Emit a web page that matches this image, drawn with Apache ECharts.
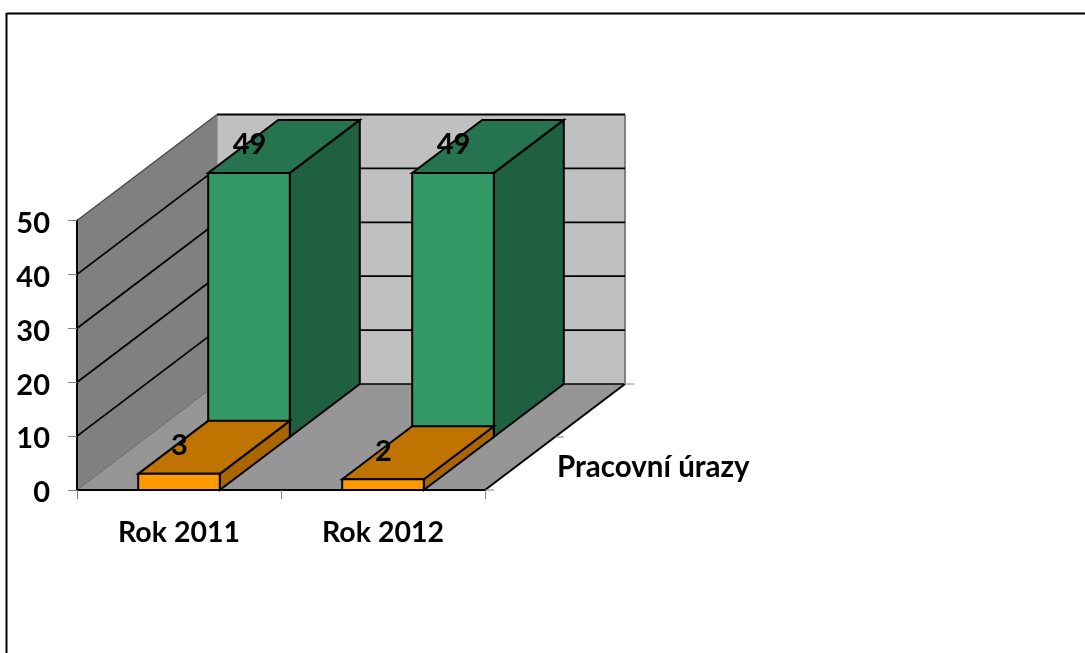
<!DOCTYPE html>
<html><head><meta charset="utf-8">
<style>html,body{margin:0;padding:0;background:#fff}#c{width:1085px;height:653px}</style>
<script src="https://cdn.jsdelivr.net/npm/echarts@6/dist/echarts.min.js"></script>
</head><body><div id="c"></div>
<script>
const categories = ['Rok 2011', 'Rok 2012'];
const frontValues = [3, 2];
const backValues = [49, 49];
const depthLabel = 'Pracovní úrazy';
const yMax = 50, yStep = 10;
const gridValues = [10, 20, 30, 40, 50];

const DX = 140, DY = -106;           // oblique projection of the full depth
const FONT = 'Lato, "Open Sans", sans-serif';
const BAR = 0.4;                     // bar width as a share of a category band
const chart = echarts.init(document.getElementById('c'), null, {renderer: 'canvas'});

function poly(points, fill, stroke, lw) {
  return {type: 'polygon', shape: {points}, style: {fill, stroke: stroke || 'none', lineWidth: lw === undefined ? 2 : lw, lineJoin: 'miter'}};
}
function line(a, b, stroke, lw) {
  return {type: 'line', shape: {x1: a[0], y1: a[1], x2: b[0], y2: b[1]}, style: {stroke, lineWidth: lw}};
}
function at(p, d) { return [p[0] + DX * d, p[1] + DY * d]; }

function renderWalls(params, api) {
  const band = api.size([1, 0])[0];
  const x0 = api.coord([0, 0])[0] - band / 2;
  const x1 = api.coord([categories.length - 1, 0])[0] + band / 2;
  const y0 = api.coord([0, 0])[1];
  const yTop = api.coord([0, yMax])[1];
  const fl = [x0, y0], fr = [x1, y0], tl = [x0, yTop], tr = [x1, yTop];
  const kids = [
    poly([at(fl, 1), at(fr, 1), at(tr, 1), at(tl, 1)], '#c0c0c0'),
    poly([fl, at(fl, 1), at(tl, 1), tl], '#808080'),
    poly([fl, fr, at(fr, 1), at(fl, 1)], '#969696'),
    line(fl, at(fl, 1), '#666666', 1),
    line(at(fl, 1), at(fr, 1), '#000', 1.4),
    line(fr, at(fr, 1), '#000', 2),
    line(at(fr, 1), at(tr, 1), '#808080', 2),
    line(at(fl, 1), at(tl, 1), '#808080', 1)
  ];
  gridValues.forEach(function (v) {
    const y = api.coord([0, v])[1];
    const top = v === yMax;
    kids.push(line([x0, y], at([x0, y], 1), top ? '#444444' : '#000', top ? 1.2 : 1.8));
    kids.push(line(at([x0, y], 1), at([x1, y], 1), '#000', 1.8));
  });
  [0, 0.5, 1].forEach(function (d) {
    const p = at(fr, d);
    kids.push(line(p, [p[0] + 9, p[1]], '#808080', 1));
  });
  return {type: 'group', children: kids};
}

function makeRender(d0, d1, colors) {
  return function (params, api) {
    const cat = api.value(0), val = api.value(1);
    const w = api.size([1, 0])[0] * BAR;
    const c = api.coord([cat, 0]), t = api.coord([cat, val]);
    const bl = [c[0] - w / 2, c[1]], br = [c[0] + w / 2, c[1]];
    const tl = [c[0] - w / 2, t[1]], tr = [c[0] + w / 2, t[1]];
    const f = [at(bl, d0), at(br, d0), at(tr, d0), at(tl, d0)];
    const top = [at(tl, d0), at(tr, d0), at(tr, d1), at(tl, d1)];
    const side = [at(br, d0), at(br, d1), at(tr, d1), at(tr, d0)];
    const lab = at([c[0], t[1]], d0);
    return {type: 'group', children: [
      poly(side, colors[2], '#000'),
      poly(top, colors[1], '#000'),
      poly(f, colors[0], '#000'),
      {type: 'text', z2: 50, style: {text: String(val), x: lab[0] + 0.5, y: lab[1] - 28, align: 'center', verticalAlign: 'middle',
        font: 'bold 29px ' + FONT, fill: '#000'}}
    ]};
  };
}

chart.setOption({
  animation: false,
  backgroundColor: '#ffffff',
  grid: {left: 77, top: 220.5, width: 408, height: 269.5, containLabel: false},
  xAxis: {
    type: 'category', data: categories, z: 8,
    axisLine: {show: true, lineStyle: {color: '#000', width: 2}},
    axisTick: {show: true, length: 9, lineStyle: {color: '#808080', width: 1}},
    axisLabel: {margin: 28, color: '#000', fontFamily: FONT, fontWeight: 'bold', fontSize: 28.5, interval: 0},
    splitLine: {show: false}
  },
  yAxis: {
    type: 'value', min: 0, max: yMax, interval: yStep, z: 8,
    axisLine: {show: true, lineStyle: {color: '#000', width: 2}},
    axisTick: {show: true, length: 9, lineStyle: {color: '#808080', width: 1}},
    axisLabel: {margin: 27, verticalAlign: 'top', lineHeight: 6, color: '#000', fontFamily: FONT, fontWeight: 'bold', fontSize: 29},
    splitLine: {show: false}
  },
  series: [
    {type: 'custom', z: 1, silent: true, coordinateSystem: 'cartesian2d', data: [[0, 0]], renderItem: renderWalls, clip: false},
    {type: 'custom', z: 2, silent: true, coordinateSystem: 'cartesian2d', data: backValues.map((v, i) => [i, v]),
      encode: {x: 0, y: 1}, renderItem: makeRender(0.5, 1, ['#339966', '#267350', '#1f6040']), clip: false},
    {type: 'custom', z: 3, silent: true, coordinateSystem: 'cartesian2d', data: frontValues.map((v, i) => [i, v]),
      encode: {x: 0, y: 1}, renderItem: makeRender(0, 0.5, ['#ff9900', '#bf7300', '#a86500']), clip: false}
  ],
  graphic: [
    {type: 'line', z: 20, shape: {x1: 6.5, y1: 13.5, x2: 1085, y2: 13.5}, style: {stroke: '#000', lineWidth: 2}},
    {type: 'line', z: 20, shape: {x1: 6.5, y1: 13, x2: 6.5, y2: 653}, style: {stroke: '#000', lineWidth: 2}},
    {type: 'text', z: 20, left: 557, top: 452, style: {text: depthLabel, font: 'bold 29.5px ' + FONT, fill: '#000'}}
  ]
});
</script></body></html>
